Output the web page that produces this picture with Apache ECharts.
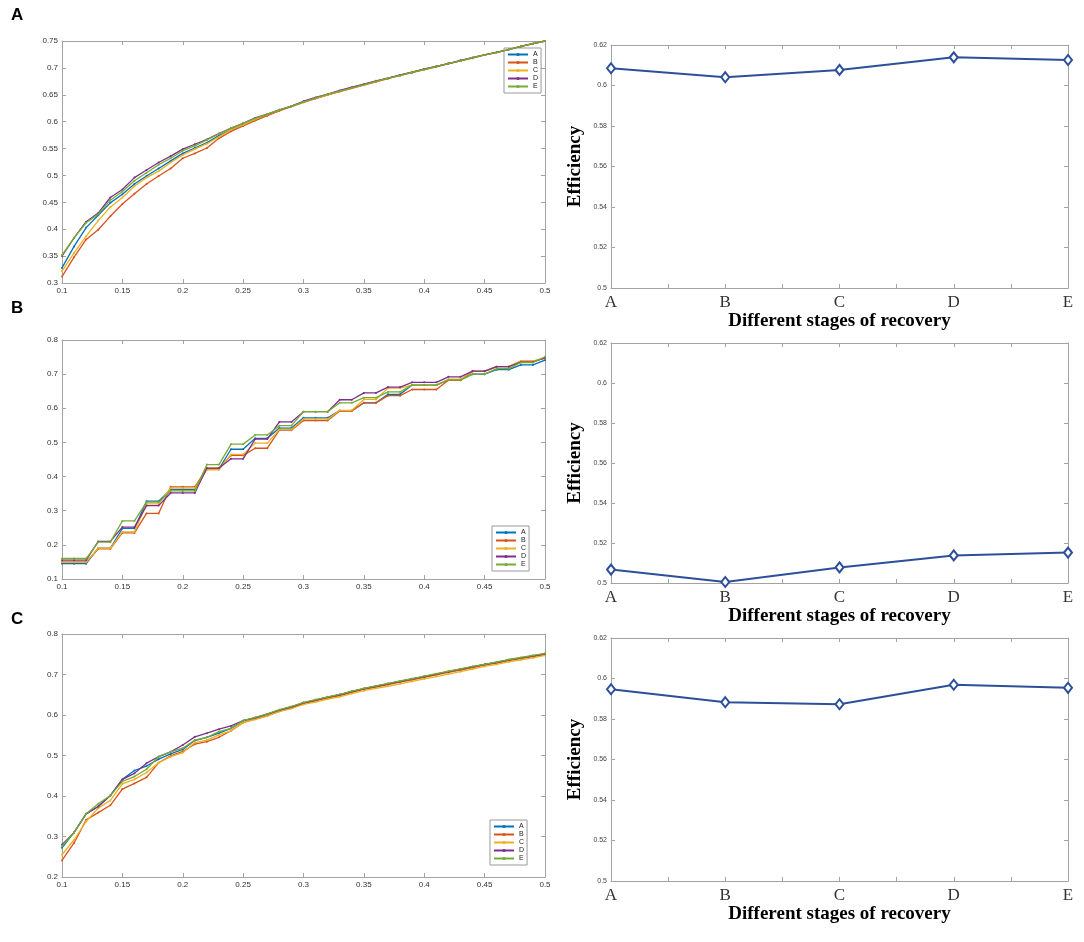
<!DOCTYPE html>
<html>
<head>
<meta charset="utf-8">
<script src="https://cdn.jsdelivr.net/npm/echarts@6/dist/echarts.min.js"></script>
<style>
html, body { margin: 0; padding: 0; background: #fff; }
#main { width: 1084px; height: 942px; }
</style>
</head>
<body>
<div id="main"></div>
<script>
// threshold values on the x axis of the left panels
var xs = [0.10,0.11,0.12,0.13,0.14,0.15,0.16,0.17,0.18,0.19,
          0.20,0.21,0.22,0.23,0.24,0.25,0.26,0.27,0.28,0.29,
          0.30,0.31,0.32,0.33,0.34,0.35,0.36,0.37,0.38,0.39,
          0.40,0.41,0.42,0.43,0.44,0.45,0.46,0.47,0.48,0.49,0.50];
var stages = ['A','B','C','D','E'];

// panel A, left
var a_A = [0.328,0.368,0.403,0.426,0.449,0.465,0.484,0.499,0.513,0.527,0.541,0.551,0.561,0.574,0.585,0.593,0.603,0.612,0.621,0.629,0.637,0.644,0.650,0.657,0.663,0.669,0.675,0.681,0.686,0.692,0.697,0.703,0.708,0.713,0.719,0.724,0.729,0.734,0.740,0.745,0.750];
var a_B = [0.312,0.348,0.381,0.399,0.424,0.447,0.466,0.484,0.499,0.513,0.532,0.541,0.551,0.569,0.582,0.592,0.602,0.611,0.620,0.628,0.636,0.643,0.650,0.656,0.662,0.668,0.674,0.680,0.686,0.691,0.697,0.702,0.708,0.713,0.718,0.724,0.729,0.734,0.740,0.745,0.750];
var a_C = [0.322,0.356,0.387,0.416,0.441,0.459,0.480,0.496,0.508,0.524,0.538,0.549,0.559,0.572,0.585,0.594,0.604,0.613,0.621,0.629,0.637,0.644,0.650,0.657,0.663,0.669,0.675,0.681,0.686,0.692,0.697,0.703,0.708,0.713,0.719,0.724,0.729,0.734,0.740,0.745,0.750];
var a_D = [0.350,0.384,0.414,0.430,0.459,0.474,0.496,0.510,0.524,0.536,0.549,0.558,0.567,0.578,0.588,0.597,0.607,0.614,0.622,0.629,0.638,0.645,0.651,0.658,0.664,0.670,0.676,0.681,0.687,0.692,0.698,0.703,0.708,0.714,0.719,0.724,0.729,0.734,0.740,0.745,0.750];
var a_E = [0.352,0.384,0.412,0.428,0.454,0.470,0.490,0.505,0.520,0.532,0.546,0.555,0.566,0.577,0.588,0.597,0.606,0.614,0.622,0.629,0.637,0.644,0.651,0.657,0.663,0.669,0.675,0.681,0.686,0.692,0.697,0.703,0.708,0.713,0.719,0.724,0.729,0.734,0.740,0.745,0.750];

// panel B, left (stepwise)
var b_A = [0.145,0.145,0.145,0.190,0.190,0.248,0.248,0.328,0.328,0.362,0.362,0.362,0.423,0.423,0.480,0.480,0.512,0.512,0.542,0.542,0.572,0.572,0.572,0.593,0.593,0.616,0.616,0.641,0.641,0.668,0.668,0.668,0.683,0.683,0.700,0.700,0.713,0.713,0.727,0.727,0.741];
var b_B = [0.150,0.150,0.150,0.188,0.188,0.235,0.235,0.292,0.292,0.370,0.370,0.370,0.424,0.424,0.462,0.462,0.483,0.483,0.536,0.536,0.564,0.564,0.564,0.592,0.592,0.616,0.616,0.637,0.637,0.655,0.655,0.655,0.682,0.682,0.708,0.708,0.722,0.722,0.738,0.738,0.746];
var b_C = [0.149,0.149,0.149,0.190,0.190,0.238,0.238,0.320,0.320,0.366,0.366,0.366,0.420,0.420,0.465,0.465,0.498,0.498,0.538,0.538,0.568,0.568,0.568,0.594,0.594,0.626,0.626,0.659,0.659,0.668,0.668,0.668,0.685,0.685,0.709,0.709,0.722,0.722,0.738,0.738,0.748];
var b_D = [0.155,0.155,0.155,0.210,0.210,0.252,0.252,0.315,0.315,0.352,0.352,0.352,0.425,0.425,0.452,0.452,0.510,0.510,0.560,0.560,0.590,0.590,0.590,0.625,0.625,0.645,0.645,0.662,0.662,0.676,0.676,0.676,0.692,0.692,0.709,0.709,0.722,0.722,0.735,0.735,0.748];
var b_E = [0.160,0.160,0.160,0.208,0.208,0.270,0.270,0.325,0.325,0.358,0.358,0.358,0.435,0.435,0.495,0.495,0.522,0.522,0.549,0.549,0.590,0.590,0.590,0.616,0.616,0.631,0.631,0.648,0.648,0.668,0.668,0.668,0.683,0.683,0.700,0.700,0.716,0.716,0.734,0.734,0.751];

// panel C, left
var c_A = [0.272,0.310,0.356,0.374,0.401,0.441,0.463,0.474,0.491,0.504,0.515,0.537,0.545,0.555,0.567,0.586,0.593,0.602,0.612,0.620,0.630,0.637,0.644,0.650,0.658,0.665,0.671,0.677,0.683,0.689,0.695,0.701,0.707,0.713,0.719,0.725,0.730,0.736,0.741,0.746,0.751];
var c_B = [0.241,0.284,0.341,0.359,0.377,0.417,0.431,0.446,0.482,0.499,0.510,0.528,0.534,0.545,0.561,0.581,0.590,0.598,0.609,0.617,0.628,0.635,0.642,0.648,0.656,0.663,0.669,0.675,0.681,0.687,0.693,0.699,0.705,0.711,0.717,0.723,0.728,0.734,0.739,0.744,0.749];
var c_C = [0.255,0.292,0.337,0.370,0.389,0.430,0.441,0.458,0.482,0.497,0.507,0.532,0.538,0.551,0.561,0.581,0.589,0.597,0.609,0.616,0.626,0.632,0.639,0.645,0.653,0.660,0.666,0.671,0.677,0.683,0.689,0.695,0.701,0.707,0.713,0.720,0.725,0.731,0.736,0.741,0.747];
var c_D = [0.280,0.310,0.356,0.374,0.401,0.441,0.456,0.481,0.497,0.509,0.526,0.546,0.555,0.565,0.573,0.586,0.593,0.602,0.612,0.620,0.630,0.637,0.644,0.650,0.658,0.665,0.671,0.677,0.683,0.689,0.695,0.701,0.707,0.713,0.719,0.725,0.730,0.736,0.741,0.746,0.751];
var c_E = [0.276,0.310,0.356,0.381,0.401,0.436,0.448,0.466,0.497,0.509,0.518,0.538,0.545,0.559,0.567,0.586,0.594,0.603,0.613,0.621,0.631,0.638,0.645,0.651,0.659,0.666,0.672,0.678,0.684,0.690,0.696,0.702,0.708,0.714,0.720,0.725,0.731,0.737,0.742,0.747,0.752];

// efficiency per stage, right panels
var effA = [0.6085, 0.6041, 0.6077, 0.6139, 0.6126];
var effB = [0.5067, 0.5005, 0.5078, 0.5138, 0.5152];
var effC = [0.5947, 0.5883, 0.5873, 0.5969, 0.5954];

var yTicksA = [0.3, 0.75, 0.05];
var yTicksB = [0.1, 0.8, 0.1];
var yTicksC = [0.2, 0.8, 0.1];
var yTicksEff = [0.5, 0.62, 0.02];

var colors = ['#0072BD', '#D95319', '#EDB120', '#7E2F8E', '#77AC30'];
var BOX = '#a3a3a3';

var leftData = [
	[a_A, a_B, a_C, a_D, a_E],
	[b_A, b_B, b_C, b_D, b_E],
	[c_A, c_B, c_C, c_D, c_E]
];
var leftY = [yTicksA, yTicksB, yTicksC];
var effData = [effA, effB, effC];

var leftTops = [41, 340, 634], leftHeights = [242, 239, 243];
var rightTops = [45, 343, 638], rightHeights = [243, 240, 243];
var legendPos = [[504, 48], [492, 526], [490, 820]];

var grids = [], xAxes = [], yAxes = [], series = [], legends = [];

function frameAxis(g, pos, min, max, step, labels) {
	return {
		type: 'value', gridIndex: g, position: pos,
		min: min, max: max, interval: step,
		axisLine: { show: true, onZero: false, lineStyle: { color: BOX, width: 1 } },
		axisTick: { show: true, inside: true, length: 4, lineStyle: { color: BOX } },
		axisLabel: labels ? labels : { show: false },
		splitLine: { show: false }
	};
}

var smallLabel = { fontSize: 8, color: '#333', margin: 4, fontFamily: 'Liberation Sans' };

// left panels
for (var p = 0; p < 3; p++) {
	var g = grids.length;
	grids.push({ left: 62, width: 483, top: leftTops[p], height: leftHeights[p] });
	xAxes.push(frameAxis(g, 'bottom', 0.1, 0.5, 0.05, smallLabel));
	xAxes.push(frameAxis(g, 'top', 0.1, 0.5, 0.05, null));
	yAxes.push(frameAxis(g, 'left', leftY[p][0], leftY[p][1], leftY[p][2], smallLabel));
	yAxes.push(frameAxis(g, 'right', leftY[p][0], leftY[p][1], leftY[p][2], null));
	for (var k = 0; k < 5; k++) {
		var vals = leftData[p][k];
		series.push({
			name: stages[k], type: 'line',
			xAxisIndex: xAxes.length - 2, yAxisIndex: yAxes.length - 2,
			data: xs.map(function (x, i) { return [x, vals[i]]; }),
			symbol: 'circle', symbolSize: 2,
			lineStyle: { color: colors[k], width: 1.3 },
			itemStyle: { color: colors[k] },
			z: 2 + k
		});
	}
	legends.push({
		data: stages, orient: 'vertical',
		left: legendPos[p][0], top: legendPos[p][1],
		backgroundColor: '#fff', borderColor: '#999', borderWidth: 1,
		padding: [3, 3, 3, 3], itemWidth: 20, itemHeight: 4, itemGap: 1,
		textStyle: { fontSize: 7, lineHeight: 7, color: '#222', fontFamily: 'Liberation Sans' }
	});
}

// right panels
for (var q = 0; q < 3; q++) {
	var g2 = grids.length;
	grids.push({ left: 611, right: 16, top: rightTops[q], height: rightHeights[q] });
	var xb = frameAxis(g2, 'bottom', 0, 4, 0.5, {
		fontSize: 17, color: '#333', margin: 6, fontFamily: 'Liberation Serif',
		formatter: function (v) { return Number.isInteger(v) ? stages[v] : ''; }
	});
	xb.name = 'Different stages of recovery';
	xb.nameLocation = 'middle';
	xb.nameGap = 24;
	xb.nameTextStyle = { fontFamily: 'Liberation Serif', fontWeight: 'bold', fontSize: 19, color: '#000' };
	xAxes.push(xb);
	xAxes.push(frameAxis(g2, 'top', 0, 4, 0.5, null));
	var yl = frameAxis(g2, 'left', yTicksEff[0], yTicksEff[1], yTicksEff[2],
		{ fontSize: 7, color: '#444', margin: 4, fontFamily: 'Liberation Sans' });
	yl.name = 'Efficiency';
	yl.nameLocation = 'middle';
	yl.nameGap = 26;
	yl.nameTextStyle = { fontFamily: 'Liberation Serif', fontWeight: 'bold', fontSize: 19, color: '#000' };
	yAxes.push(yl);
	yAxes.push(frameAxis(g2, 'right', yTicksEff[0], yTicksEff[1], yTicksEff[2], null));
	var ev = effData[q];
	series.push({
		name: 'Efficiency', type: 'line',
		xAxisIndex: xAxes.length - 2, yAxisIndex: yAxes.length - 2,
		data: stages.map(function (s, i) { return [i, ev[i]]; }),
		symbol: 'emptyDiamond', symbolSize: [8, 10],
		lineStyle: { color: '#2d4f9a', width: 2 },
		itemStyle: { color: '#2d4f9a', borderWidth: 1.5 }
	});
}

var letterStyle = { fontFamily: 'Liberation Sans', fontWeight: 'bold', fontSize: 17, fill: '#000' };
var myChart = echarts.init(document.getElementById('main'));
myChart.setOption({
	animation: false,
	backgroundColor: '#fff',
	grid: grids,
	xAxis: xAxes,
	yAxis: yAxes,
	legend: legends,
	series: series,
	graphic: [
		{ type: 'text', left: 11, top: 7, style: Object.assign({ text: 'A' }, letterStyle) },
		{ type: 'text', left: 11, top: 300, style: Object.assign({ text: 'B' }, letterStyle) },
		{ type: 'text', left: 11, top: 611, style: Object.assign({ text: 'C' }, letterStyle) }
	]
});
</script>
</body>
</html>
